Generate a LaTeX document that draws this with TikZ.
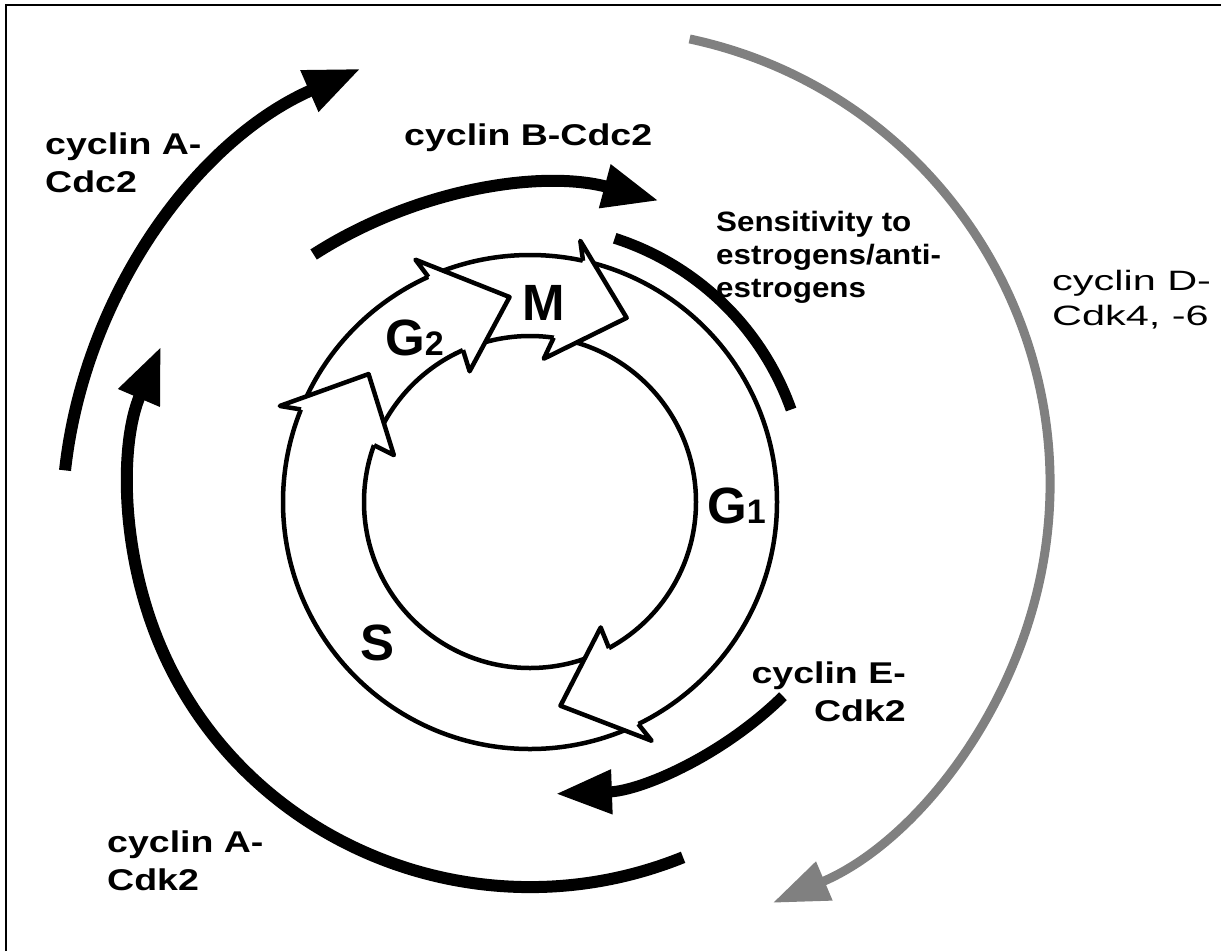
\documentclass[tikz,border=0pt]{standalone}
\usepackage{fontspec}
\setmainfont{Liberation Sans}
\newfontfamily\labfont{Liberation Sans}[FakeStretch=1.25]
\newfontfamily\sensfont{Liberation Sans}[FakeStretch=1.12]
\newfontfamily\dfont{Liberation Sans}[FakeStretch=1.48]
\usetikzlibrary{arrows.meta}

\begin{document}
\begin{tikzpicture}[
    x=1pt, y=1pt,
    every node/.style={inner sep=0pt},
    phase/.style={draw=black, fill=white, line width=4.5pt, line join=round},
    ring/.style={line width=4.5pt},
    phasetext/.style={font=\fontsize{51}{51}\selectfont\bfseries},
    cyc/.style={font=\labfont\fontsize{30}{38}\selectfont\bfseries},
    cdk/.style={line width=12pt, -{Triangle[length=56pt,width=42pt]}},
    cdkd/.style={line width=9pt, draw=black!50, -{Triangle[length=56pt,width=40pt]}}
]
    \useasboundingbox (0,0) rectangle (1221,-951);
    \draw[line width=2.5pt] (6,-951) -- (6,-5) -- (1221,-5);

    % the cycle ring
    \begin{scope}[shift={(530,-502)}]
        \draw[ring] (0,0) circle[radius=166];
        \draw[ring] (0,0) circle[radius=247];
        \filldraw[phase] (-61.6:166) -- (-60.6:144) -- (-81.5:206) -- (-63:268) -- (-64:247);
        \filldraw[phase] (160:166) -- (161:144) -- (141.6:206) -- (159:268) -- (158:247);
        \filldraw[phase] (113.8:166) -- (114.8:144) -- (95.7:206) -- (115.3:268) -- (114.3:247);
        \filldraw[phase] (81.8:166) -- (84.5:144) -- (62.3:208) -- (79.1:266) -- (77.6:247);
    \end{scope}
    \node[phasetext, anchor=base] (m) at (544,-320) {M};
    \node[phasetext, anchor=base west] (g2) at (385,-355) {G{\fontsize{34}{34}\selectfont 2}};
    \node[phasetext, anchor=base west] (g1) at (707,-523) {G{\fontsize{34}{34}\selectfont 1}};
    \node[phasetext, anchor=base] (s) at (378,-660) {S};

    % kinase arcs
    \draw[cdk, shift={(560,-525)}] (173.7:498) arc[start angle=173.7, end angle=113.6, radius=498];
    \draw[cdk, shift={(547,-618)}] (122.7:432) arc[start angle=122.7, end angle=75, radius=432];
    \draw[cdk, shift={(530,-497)}] ({400*cos(-67.5)},{390*sin(-67.5)}) arc[start angle=-67.5, end angle=-202.7, x radius=400, y radius=390];
    \draw[cdk, line width=11pt, shift={(544,-453)}] (-45.5:341) arc[start angle=-45.5, end angle=-88, radius=341];
    \draw[line width=11pt, shift={(530,-502)}] (72.2:277) arc[start angle=72.2, end angle=19.5, radius=277];
    \draw[cdkd, shift={(595,-484)}] (78:455) arc[start angle=78, end angle=-67, radius=455];

    \node[cyc, anchor=north west, align=left] (acdc) at (45,-133) {cyclin A-\\Cdc2};
    \node[cyc, anchor=base west] (bcdc) at (404,-145) {cyclin B-Cdc2};
    \node[font=\sensfont\fontsize{28}{33}\selectfont\bfseries, anchor=north west, align=left] (sens) at (716,-211) {Sensitivity to\\estrogens/anti-\\estrogens};
    \node[font=\dfont\fontsize{28}{35}\selectfont, anchor=north west, align=left] (dcdk) at (1052,-270) {cyclin D-\\Cdk4, -6};
    \node[cyc, anchor=north east, align=right] (ecdk) at (906,-662) {cyclin E-\\Cdk2};
    \node[cyc, anchor=north west, align=left] (acdk) at (107,-831) {cyclin A-\\Cdk2};
\end{tikzpicture}
\end{document}
